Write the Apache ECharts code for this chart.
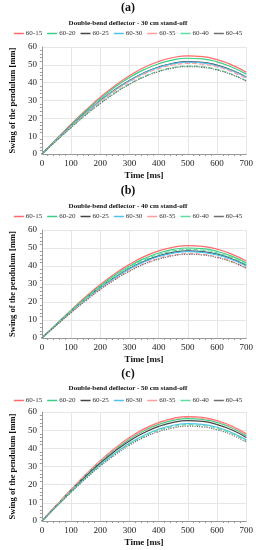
<!DOCTYPE html>
<html><head><meta charset="utf-8">
<script src="https://cdn.jsdelivr.net/npm/echarts@6/dist/echarts.min.js"></script>
<style>html,body{margin:0;padding:0;background:#fff}#c{width:256px;height:550px}</style>
</head><body><div id="c"></div>
<script>
var times = [0,50,100,150,200,250,300,350,400,450,500,550,600,650,700];
var seriesNames = ['60-15','60-20','60-25','60-30','60-35','60-40','60-45'];
var panelLabels = ['(a)','(b)','(c)'];
var panelTitles = ['Double-bend deflector - 30 cm stand-off','Double-bend deflector - 40 cm stand-off','Double-bend deflector - 50 cm stand-off'];

// Panel (a) 30 cm
var a_60_15 = [0,8.4,16.7,24.5,31.8,38.3,43.9,48.5,51.9,54.1,55.0,54.6,52.9,50.0,45.9];
var a_60_20 = [0,8.2,16.3,24.0,31.0,37.4,42.9,47.3,50.6,52.8,53.7,53.3,51.7,48.8,44.8];
var a_60_25 = [0,7.9,15.7,23.1,29.9,36.1,41.3,45.6,48.8,50.9,51.8,51.4,49.8,47.1,43.2];
var a_60_30 = [0,7.9,15.6,23.0,29.8,35.8,41.1,45.4,48.6,50.6,51.5,51.1,49.5,46.8,43.0];
var a_60_35 = [0,7.8,15.4,22.7,29.4,35.4,40.5,44.8,47.9,49.9,50.8,50.4,48.9,46.2,42.4];
var a_60_40 = [0,7.5,14.9,22.0,28.5,34.3,39.3,43.4,46.5,48.5,49.3,48.9,47.4,44.8,41.1];
var a_60_45 = [0,7.5,14.8,21.9,28.3,34.1,39.1,43.2,46.2,48.2,49.0,48.6,47.1,44.5,40.9];
// Panel (b) 40 cm
var b_60_15 = [0,7.8,15.5,22.9,29.7,35.7,40.9,45.2,48.4,50.4,51.3,50.9,49.4,46.6,42.8];
var b_60_20 = [0,7.7,15.2,22.3,28.9,34.8,39.9,44.1,47.2,49.2,50.0,49.6,48.1,45.5,41.7];
var b_60_25 = [0,7.4,14.7,21.6,28.0,33.7,38.6,42.6,45.6,47.6,48.4,48.0,46.6,44.0,40.4];
var b_60_30 = [0,7.3,14.5,21.4,27.7,33.4,38.3,42.3,45.3,47.2,48.0,47.6,46.2,43.6,40.0];
var b_60_35 = [0,7.2,14.2,20.9,27.1,32.6,37.4,41.3,44.2,46.1,46.9,46.5,45.1,42.6,39.1];
var b_60_40 = [0,7.5,14.9,21.9,28.4,34.2,39.3,43.3,46.4,48.4,49.2,48.8,47.3,44.7,41.0];
var b_60_45 = [0,7.1,14.1,20.7,26.9,32.4,37.1,41.0,43.8,45.7,46.5,46.1,44.7,42.3,38.8];
// Panel (c) 50 cm
var c_60_15 = [0,8.8,17.4,25.6,33.2,40.0,45.9,50.7,54.2,56.5,57.5,57.0,55.3,52.3,48.0];
var c_60_20 = [0,8.6,17.1,25.2,32.6,39.3,45.0,49.7,53.2,55.4,56.4,55.9,54.3,51.3,47.0];
var c_60_25 = [0,8.4,16.7,24.6,31.9,38.4,44.1,48.6,52.1,54.3,55.2,54.8,53.1,50.2,46.0];
var c_60_30 = [0,8.2,16.2,23.9,31.0,37.3,42.8,47.2,50.5,52.7,53.6,53.2,51.6,48.7,44.7];
var c_60_35 = [0,8.7,17.3,25.4,32.9,39.7,45.5,50.2,53.8,56.0,57.0,56.5,54.8,51.8,47.5];
var c_60_40 = [0,8.1,16.1,23.6,30.6,36.9,42.3,46.7,50.0,52.1,53.0,52.6,51.0,48.2,44.2];
var c_60_45 = [0,8.0,15.8,23.3,30.2,36.3,41.7,46.0,49.2,51.3,52.2,51.8,50.2,47.5,43.5];

var xTicks = [0,100,200,300,400,500,600,700];
var yTicks = [0,10,20,30,40,50,60];

var panels = [
  [a_60_15,a_60_20,a_60_25,a_60_30,a_60_35,a_60_40,a_60_45],
  [b_60_15,b_60_20,b_60_25,b_60_30,b_60_35,b_60_40,b_60_45],
  [c_60_15,c_60_20,c_60_25,c_60_30,c_60_35,c_60_40,c_60_45]
];

var colors = ['#ff6b6b','#3dcf85','#454545','#4ec3f2','#ff9e9e','#5fdca0','#6f6f6f'];
var types = ['solid','solid','solid','solid','dashed','dashed','dotted'];

var FONT = '"Liberation Serif","DejaVu Serif",serif';
var L = {
  labelY: [9, 192, 375],
  titleY: [24, 207, 389],
  legendY: [34, 217, 401],
  gridTop: [47, 230, 412],
  gridH: [107, 108, 109]
};

var option = {
  animation: false,
  backgroundColor: '#fff',
  title: [], legend: [], grid: [], xAxis: [], yAxis: [], series: []
};

for (var p = 0; p < 3; p++) {
  option.title.push({
    text: panelLabels[p], left: 'center', top: L.labelY[p] - 7, padding: 0,
    textStyle: {fontFamily: FONT, fontSize: 12, fontWeight: 'bold', color: '#111'}
  });
  option.title.push({
    text: panelTitles[p], left: 'center', top: L.titleY[p] - 4, padding: 0,
    textStyle: {fontFamily: FONT, fontSize: 7, fontWeight: 'bold', color: '#111'}
  });
  option.legend.push({
    show: true,
    data: seriesNames, top: L.legendY[p] - 4, left: 'center', width: 256,
    itemWidth: 10, itemHeight: 1.5, itemGap: 5, padding: 0,
    icon: 'path://M0,0L10,0L10,1.5L0,1.5Z',
    textStyle: {fontFamily: FONT, fontSize: 7, color: '#333', padding: [0,0,0,-3]}
  });
  option.grid.push({left: 31, right: 9, top: L.gridTop[p], height: L.gridH[p]});
  option.xAxis.push({
    type: 'value', gridIndex: p, min: 0, max: 700, interval: 100,
    name: 'Time [ms]', nameLocation: 'middle', nameGap: 17,
    nameTextStyle: {fontFamily: FONT, fontSize: 9, fontWeight: 'bold', color: '#111'},
    axisLine: {show: true, lineStyle: {color: '#999', width: 1}},
    axisTick: {show: false},
    minorTick: {show: true, splitNumber: 5, length: 2, lineStyle: {color: '#999'}},
    axisLabel: {fontFamily: FONT, fontSize: 9, color: '#222', margin: 5},
    splitLine: {show: true, lineStyle: {color: '#e6e6e6', width: 1}}
  });
  option.yAxis.push({
    type: 'value', gridIndex: p, min: 0, max: 60, interval: 10,
    name: 'Swing of the pendulum [mm]', nameLocation: 'middle', nameGap: 20,
    nameTextStyle: {fontFamily: FONT, fontSize: 8.5, fontWeight: 'bold', color: '#111'},
    axisLine: {show: true, lineStyle: {color: '#999', width: 1}},
    axisTick: {show: false},
    minorTick: {show: true, splitNumber: 5, length: 2, lineStyle: {color: '#999'}},
    axisLabel: {fontFamily: FONT, fontSize: 9, color: '#222', margin: 5},
    splitLine: {show: true, lineStyle: {color: '#e6e6e6', width: 1}}
  });
  for (var s = 0; s < seriesNames.length; s++) {
    var vals = panels[p][s];
    var d = [];
    for (var i = 0; i < times.length; i++) d.push([times[i], vals[i]]);
    option.series.push({
      name: seriesNames[s], type: 'line', xAxisIndex: p, yAxisIndex: p,
      data: d, smooth: true, showSymbol: false, symbol: 'none',
      color: colors[s],
      itemStyle: {color: colors[s]},
      lineStyle: {color: colors[s], width: 1.2, type: types[s]}
    });
  }
}

var chart = echarts.init(document.getElementById('c'), null, {renderer: 'canvas'});
chart.setOption(option);
</script>
</body></html>
